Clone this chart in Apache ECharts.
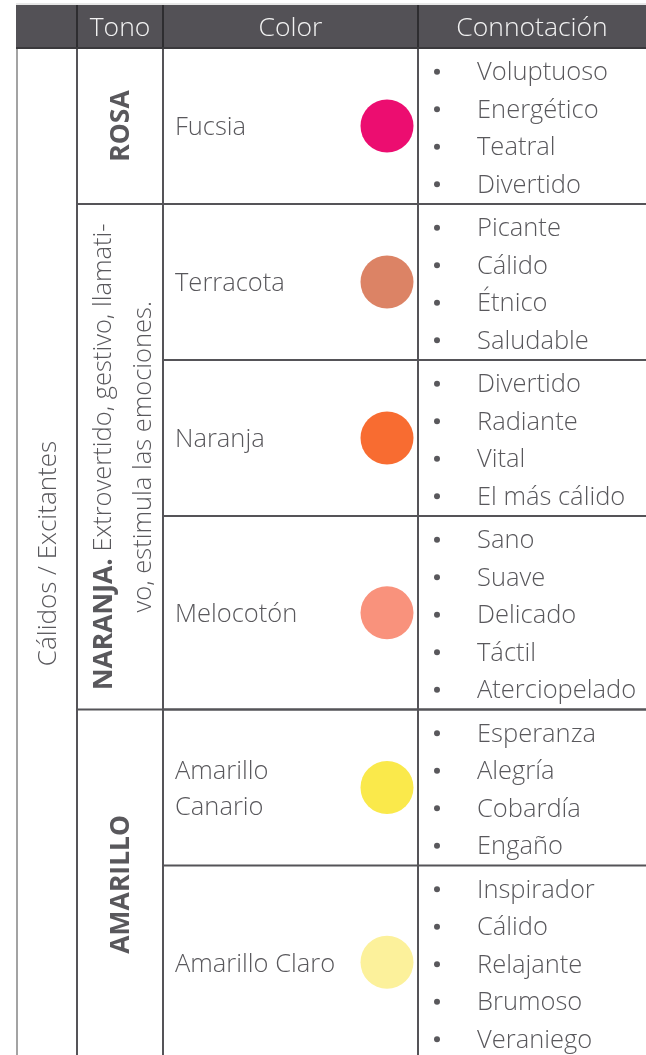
<!DOCTYPE html>
<html><head><meta charset="utf-8">
<script src="https://cdn.jsdelivr.net/npm/echarts@6/dist/echarts.min.js"></script>
<style>html,body{margin:0;padding:0;background:#fff}#c{width:646px;height:1055px}</style>
</head><body><div id="c"></div>
<script>
// ---- data ----
const headers = ['Tono', 'Color', 'Connotación'];
const groupLabel = 'Cálidos / Excitantes';
const tones = ['ROSA', 'NARANJA', 'AMARILLO'];
const toneNotes = ['', 'Extrovertido, gestivo, llamati-\nvo, estimula las emociones.', ''];
const rowTone = [0, 1, 1, 1, 2, 2];
const colorNames = ['Fucsia', 'Terracota', 'Naranja', 'Melocotón', 'Amarillo\nCanario', 'Amarillo Claro'];
const swatchColors = ['#EC0D70', '#DC8365', '#F86C31', '#F9927C', '#FAE94B', '#FCF19B'];
const connotations = [
  ['Voluptuoso', 'Energético', 'Teatral', 'Divertido'],
  ['Picante', 'Cálido', 'Étnico', 'Saludable'],
  ['Divertido', 'Radiante', 'Vital', 'El más cálido'],
  ['Sano', 'Suave', 'Delicado', 'Táctil', 'Aterciopelado'],
  ['Esperanza', 'Alegría', 'Cobardía', 'Engaño'],
  ['Inspirador', 'Cálido', 'Relajante', 'Brumoso', 'Veraniego']
];

// ---- layout ----
const W = 646, H = 1055;
const COL = [17, 77, 163, 418, 646];
const HEAD_TOP = 5, HEAD_BOT = 48, LINE = 37.5, PAD = 6;
const FONT = '"Open Sans", sans-serif';
const FS = 25.5;
const FW = '360';
const TXT = '#59585c';
const LINEC = '#555458';
const rowTop = [], rowBot = [];
let acc = HEAD_BOT;
connotations.forEach(list => { rowTop.push(acc); acc += list.length * LINE + PAD; rowBot.push(acc); });
const bodyBot = Math.max(acc, H + 5);
const toneTop = tones.map((t, i) => rowTop[rowTone.indexOf(i)]);
const toneBot = tones.map((t, i) => rowBot[rowTone.lastIndexOf(i)]);

function line(api, x1, y1, x2, y2, color, w) {
  const a = api.coord([x1, y1]), b = api.coord([x2, y2]);
  return { type: 'line', shape: { x1: a[0], y1: a[1], x2: b[0], y2: b[1] }, style: { stroke: color, lineWidth: w } };
}
function text(api, x, y, str, opts) {
  const p = api.coord([x, y]);
  return Object.assign({ type: 'text', x: p[0], y: p[1], style: Object.assign({ text: str, fill: TXT, font: FW + ' ' + FS + 'px ' + FONT, align: 'left', verticalAlign: 'middle' }, opts.style || {}) }, opts.el || {});
}

const chart = echarts.init(document.getElementById('c'), null, { renderer: 'canvas' });
chart.setOption({
  animation: false,
  grid: { left: 0, right: 0, top: 0, bottom: 0 },
  xAxis: { type: 'value', min: 0, max: W, show: false },
  yAxis: { type: 'value', min: 0, max: H, inverse: true, show: false },
  series: [
    { // rows
      type: 'custom', coordinateSystem: 'cartesian2d', silent: true,
      data: colorNames.map((n, i) => [i]),
      renderItem: function (params, api) {
        const i = api.value(0);
        const top = rowTop[i], bot = rowBot[i], mid = (top + bot) / 2;
        const ch = [];
        ch.push(line(api, COL[2], top, COL[4], top, LINEC, 2));
        ch.push(text(api, 175, mid + 2, colorNames[i], { style: { lineHeight: 36 } }));
        const c = api.coord([387, mid]);
        ch.push({ type: 'circle', shape: { cx: c[0], cy: c[1], r: 26.5 }, style: { fill: swatchColors[i] } });
        connotations[i].forEach((w, k) => {
          const yy = top + PAD / 2 + LINE * (k + 0.5) + 3;
          const b = api.coord([437, yy - 1]);
          ch.push({ type: 'circle', shape: { cx: b[0], cy: b[1], r: 3 }, style: { fill: TXT } });
          ch.push(text(api, 477, yy, w, {}));
        });
        return { type: 'group', children: ch };
      }
    },
    { // tones
      type: 'custom', coordinateSystem: 'cartesian2d', silent: true,
      data: tones.map((t, i) => [i]),
      renderItem: function (params, api) {
        const i = api.value(0);
        const top = toneTop[i], bot = toneBot[i], mid = (top + bot) / 2;
        const ch = [];
        ch.push(line(api, COL[1], top, COL[4], top, LINEC, 2));
        const note = toneNotes[i];
        const str = note ? '{b|' + tones[i] + '.} ' + note : '{b|' + tones[i] + '}';
        const xc = note ? 124 : 121;
        ch.push(text(api, xc, mid, str, {
          el: { rotation: Math.PI / 2 },
          style: { align: 'center', lineHeight: 40, rich: { b: { font: 'bold 26.5px ' + FONT, fill: TXT } } }
        }));
        return { type: 'group', children: ch };
      }
    },
    { // frame, header, group label
      type: 'custom', coordinateSystem: 'cartesian2d', silent: true,
      data: [[0]],
      renderItem: function (params, api) {
        const ch = [];
        const a = api.coord([COL[0] - 1, HEAD_TOP]), b = api.coord([COL[4], HEAD_BOT]);
        ch.push({ type: 'rect', shape: { x: a[0], y: a[1], width: b[0] - a[0], height: b[1] - a[1] }, style: { fill: '#535156' } });
        ch.push(line(api, COL[0] - 1, HEAD_TOP - 1, COL[4], HEAD_TOP - 1, '#d0d0d0', 1));
        headers.forEach((h, k) => {
          ch.push(text(api, (COL[k + 1] + COL[k + 2]) / 2, (HEAD_TOP + HEAD_BOT) / 2 + 2, h, { style: { align: 'center', fill: '#f2f2f2', font: FW + ' 26.5px ' + FONT } }));
        });
        for (let k = 1; k <= 3; k++) {
          ch.push(line(api, COL[k], HEAD_TOP, COL[k], HEAD_BOT, '#2e2d30', 2));
          ch.push(line(api, COL[k], HEAD_BOT, COL[k], bodyBot, LINEC, 2));
        }
        ch.push(line(api, COL[0], HEAD_BOT, COL[0], bodyBot, '#a3a3a3', 2));
        ch.push(line(api, COL[0] - 1, HEAD_BOT, COL[4], HEAD_BOT, '#3a393c', 2));
        ch.push(text(api, 49, (HEAD_BOT + rowBot[rowBot.length - 1]) / 2, groupLabel, { el: { rotation: Math.PI / 2 }, style: { align: 'center', font: FW + ' 26px ' + FONT } }));
        return { type: 'group', children: ch };
      }
    }
  ]
});
</script></body></html>
